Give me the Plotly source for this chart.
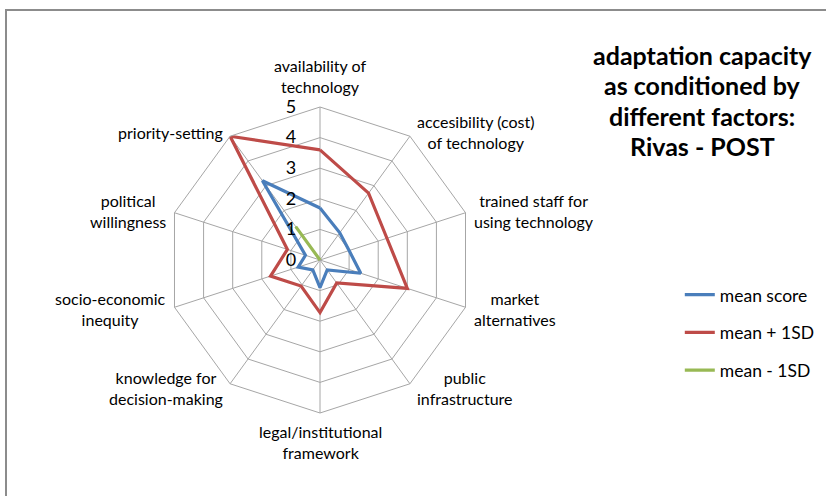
import math
import plotly.graph_objects as go

categories = [
    "availability of<br>technology",
    "accesibility (cost)<br>of technology",
    "trained staff for<br>using technology",
    "market<br>alternatives",
    "public<br>infrastructure",
    "legal/institutional<br>framework",
    "knowledge for<br>decision-making",
    "socio-economic<br>inequity",
    "political<br>willingness",
    "priority-setting",
]
mean_score = [1.7, 1.1, 1.0, 1.4, 0.4, 0.9, 0.4, 0.75, 0.5, 3.2]
mean_plus_sd = [3.6, 2.7, 2.3, 3.0, 0.93, 1.72, 1.05, 1.7, 1.12, 5.0]
mean_minus_sd = [0, 0, 0, 0, 0, 0, 0, 0, 0, 1.35]
series_names = ["mean score", "mean + 1SD", "mean - 1SD"]
series_colors = ["#4a7ebb", "#be4b48", "#98b954"]
radial_ticks = [0, 1, 2, 3, 4, 5]
title_lines = ["adaptation capacity", "as conditioned by", "different factors:", "Rivas - POST"]

W, H = 826, 496
cx, cy, R = 320, 260, 153
FONT = "Lato, Carlito, sans-serif"

fig = go.Figure()
for i, (name, vals, col) in enumerate(zip(series_names, [mean_score, mean_plus_sd, mean_minus_sd], series_colors)):
    fig.add_trace(go.Scatterpolar(
        r=vals + vals[:1],
        theta=categories + categories[:1],
        mode="lines",
        name=name,
        legendgroup=f"g{i}",
        line=dict(color=col, width=3.2),
    ))

annotations = []
# category labels placed just outside each vertex of the outer ring (Excel-like placement)
n = len(categories)
for i, lab in enumerate(categories):
    th = math.radians(90 - 360.0 * i / n)
    vx = cx + R * math.cos(th)
    vy = cy - R * math.sin(th)
    c, s = math.cos(th), math.sin(th)
    if abs(c) < 0.1:
        if s > 0:
            ax, ay, xa, ya = vx, vy - 9, "center", "bottom"
        else:
            ax, ay, xa, ya = vx, vy + 7, "center", "top"
    else:
        gap = 5 if abs(s) > 0.5 else 6
        ax = vx + gap if c > 0 else vx - gap
        ay = vy - 5 * s
        xa, ya = ("left" if c > 0 else "right"), "middle"
    annotations.append(dict(
        text=lab, xref="paper", yref="paper", x=ax / W, y=1 - ay / H,
        xanchor=xa, yanchor=ya, showarrow=False, align="center",
        font=dict(size=16, color="#000000", family=FONT),
    ))

# title lines
for k, line in enumerate(title_lines):
    annotations.append(dict(
        text=f"<b>{line}</b>", xref="paper", yref="paper",
        x=702 / W, y=1 - (55 + 30.4 * k) / H,
        xanchor="center", yanchor="middle", showarrow=False,
        font=dict(size=25, color="#000000", family=FONT),
    ))

fig.update_layout(
    width=W, height=H,
    margin=dict(l=0, r=0, t=0, b=0),
    paper_bgcolor="white",
    plot_bgcolor="white",
    font=dict(family=FONT, color="#000000"),
    polar=dict(
        domain=dict(x=[(cx - R) / W, (cx + R) / W], y=[1 - (cy + R) / H, 1 - (cy - R) / H]),
        bgcolor="white",
        gridshape="linear",
        angularaxis=dict(
            direction="clockwise",
            rotation=90,
            showline=True,
            linecolor="#a6a6a6",
            linewidth=1,
            gridcolor="#a6a6a6",
            gridwidth=1,
            ticks="",
            showticklabels=False,
        ),
        radialaxis=dict(
            range=[0, 5],
            tickvals=radial_ticks,
            ticktext=[str(t) for t in radial_ticks],
            angle=90,
            tickangle=90,
            side="counterclockwise",
            showline=False,
            gridcolor="#a6a6a6",
            gridwidth=1,
            ticks="outside",
            ticklen=17,
            tickcolor="rgba(0,0,0,0)",
            tickfont=dict(size=18, color="#000000"),
        ),
    ),
    legend=dict(
        x=0.823, y=0.329, xanchor="left", yanchor="middle",
        font=dict(size=17.5, color="#000000"),
        tracegroupgap=12,
        itemwidth=30,
        bgcolor="rgba(0,0,0,0)",
    ),
    showlegend=True,
    shapes=[dict(type="rect", xref="paper", yref="paper",
                 x0=6 / W, x1=1.02, y0=-0.02, y1=1 - 10 / H,
                 line=dict(color="#8c8c8c", width=2))],
    annotations=annotations,
)

fig.write_html("out.html", config={"displayModeBar": False},
               post_script="document.body.style.margin='0';")
